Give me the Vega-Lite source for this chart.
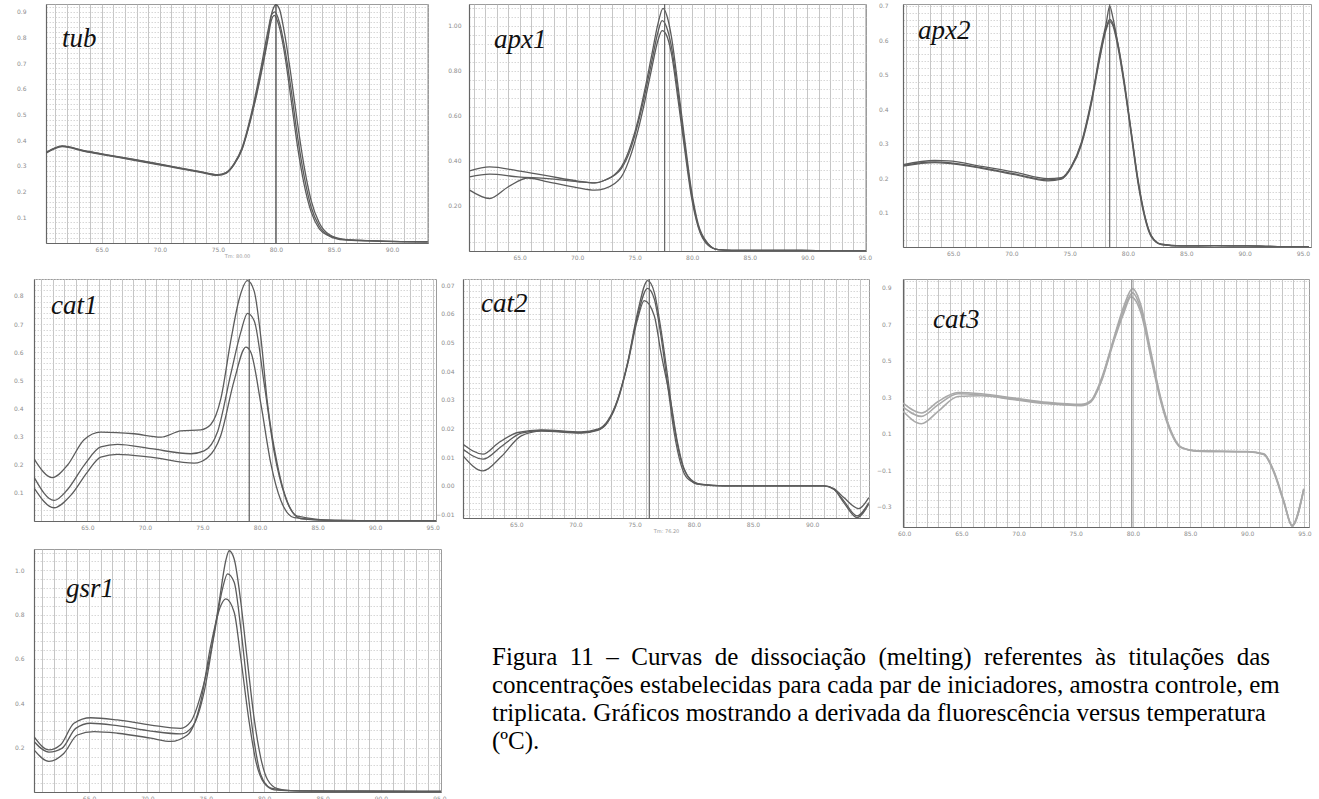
{
"$schema": "https://vega.github.io/schema/vega-lite/v6.json",
"background": "white",
"padding": {"left": 12, "top": 2, "right": 0, "bottom": 0},
"spacing": 11,
"vconcat": [
 {"spacing": 14, "vconcat": [
  {"bounds": "flush", "spacing": 0, "hconcat": [
   {"width": 12, "height": 1, "view": {"stroke": null}, "data": {"values": []}, "mark": "point"},
   {"width": 382, "height": 239,
    "title": {"text": "tub", "anchor": "start", "frame": "group", "orient": "top", "offset": -71, "dx": 16, "baseline": "alphabetic", "font": "Liberation Serif", "fontStyle": "italic", "fontWeight": "normal", "fontSize": 27, "color": "#111"},
    "layer": [
     {"data": {"name": "curves"}, "transform": [{"filter": "datum.g === 'tub'"}],
      "mark": {"type": "line", "interpolate": "monotone", "color": "#5c5c5c", "strokeWidth": 1.3, "clip": true},
      "encoding": {
       "x": {"field": "t", "type": "quantitative", "scale": {"domain": [60.2, 93.1], "nice": false, "zero": false},
             "axis": {"values": [61,62,63,64,65,66,67,68,69,70,71,72,73,74,75,76,77,78,79,80,81,82,83,84,85,86,87,88,89,90,91,92,93], "tickCount": 200, "labelExpr": "datum.value % 5 === 0 ? format(datum.value, '.1f') : ''", "labelOverlap": false, "labelFlush": false, "labelPadding": 3, "title": "Tm: 80.00"}},
       "y": {"field": "v", "type": "quantitative", "scale": {"domain": [0, 0.93], "nice": false, "zero": false},
             "axis": {"values": [0.02,0.04,0.06,0.08,0.1,0.12,0.14,0.16,0.18,0.2,0.22,0.24,0.26,0.28,0.3,0.32,0.34,0.36,0.38,0.4,0.42,0.44,0.46,0.48,0.5,0.52,0.54,0.56,0.58,0.6,0.62,0.64,0.66,0.68,0.7,0.72,0.74,0.76,0.78,0.8,0.82,0.84,0.86,0.88,0.9,0.92], "tickCount": 200, "labelExpr": "abs(datum.value*10 - round(datum.value*10)) < 0.001 ? format(datum.value, '.1f') : ''", "labelOverlap": false, "labelPadding": 20, "title": null}},
       "detail": {"field": "r"}}},
     {"data": {"name": "tm"}, "transform": [{"filter": "datum.g === 'tub'"}],
      "mark": {"type": "rule", "color": "#555", "strokeWidth": 1.3},
      "encoding": {"x": {"field": "t", "type": "quantitative"}}}
    ]},
   {"width": 41, "height": 1, "view": {"stroke": null}, "data": {"values": []}, "mark": "point"},
   {"width": 397, "height": 247,
    "title": {"text": "apx1", "anchor": "start", "frame": "group", "orient": "top", "offset": -72, "dx": 25, "baseline": "alphabetic", "font": "Liberation Serif", "fontStyle": "italic", "fontWeight": "normal", "fontSize": 27, "color": "#111"},
    "layer": [
     {"data": {"name": "curves"}, "transform": [{"filter": "datum.g === 'apx1'"}],
      "mark": {"type": "line", "interpolate": "monotone", "color": "#5c5c5c", "strokeWidth": 1.3, "clip": true},
      "encoding": {
       "x": {"field": "t", "type": "quantitative", "scale": {"domain": [60.6, 95.1], "nice": false, "zero": false},
             "axis": {"values": [61,62,63,64,65,66,67,68,69,70,71,72,73,74,75,76,77,78,79,80,81,82,83,84,85,86,87,88,89,90,91,92,93,94,95], "tickCount": 200, "labelExpr": "datum.value % 5 === 0 ? format(datum.value, '.1f') : ''", "labelOverlap": false, "labelFlush": false, "labelPadding": 3, "title": null}},
       "y": {"field": "v", "type": "quantitative", "scale": {"domain": [0, 1.096], "nice": false, "zero": false},
             "axis": {"values": [0.04,0.08,0.12,0.16,0.2,0.24,0.28,0.32,0.36,0.4,0.44,0.48,0.52,0.56,0.6,0.64,0.68,0.72,0.76,0.8,0.84,0.88,0.92,0.96,1.0,1.04,1.08], "tickCount": 200, "labelExpr": "abs(datum.value*5 - round(datum.value*5)) < 0.001 ? format(datum.value, '.2f') : ''", "labelOverlap": false, "labelPadding": 8, "title": null}},
       "detail": {"field": "r"}}},
     {"data": {"name": "tm"}, "transform": [{"filter": "datum.g === 'apx1'"}],
      "mark": {"type": "rule", "color": "#666", "strokeWidth": 1.2},
      "encoding": {"x": {"field": "t", "type": "quantitative"}}}
    ]},
   {"width": 37, "height": 1, "view": {"stroke": null}, "data": {"values": []}, "mark": "point"},
   {"width": 408, "height": 243,
    "title": {"text": "apx2", "anchor": "start", "frame": "group", "orient": "top", "offset": -63, "dx": 15, "baseline": "alphabetic", "font": "Liberation Serif", "fontStyle": "italic", "fontWeight": "normal", "fontSize": 27, "color": "#111"},
    "layer": [
     {"data": {"name": "curves"}, "transform": [{"filter": "datum.g === 'apx2'"}],
      "mark": {"type": "line", "interpolate": "monotone", "color": "#5c5c5c", "strokeWidth": 1.3, "clip": true},
      "encoding": {
       "x": {"field": "t", "type": "quantitative", "scale": {"domain": [60.7, 95.7], "nice": false, "zero": false},
             "axis": {"values": [61,62,63,64,65,66,67,68,69,70,71,72,73,74,75,76,77,78,79,80,81,82,83,84,85,86,87,88,89,90,91,92,93,94,95], "tickCount": 200, "labelExpr": "datum.value % 5 === 0 ? format(datum.value, '.1f') : ''", "labelOverlap": false, "labelFlush": false, "labelPadding": 3, "title": null}},
       "y": {"field": "v", "type": "quantitative", "scale": {"domain": [0, 0.705], "nice": false, "zero": false},
             "axis": {"values": [0.02,0.04,0.06,0.08,0.1,0.12,0.14,0.16,0.18,0.2,0.22,0.24,0.26,0.28,0.3,0.32,0.34,0.36,0.38,0.4,0.42,0.44,0.46,0.48,0.5,0.52,0.54,0.56,0.58,0.6,0.62,0.64,0.66,0.68,0.7], "tickCount": 200, "labelExpr": "abs(datum.value*10 - round(datum.value*10)) < 0.001 ? format(datum.value, '.1f') : ''", "labelOverlap": false, "labelPadding": 15, "title": null}},
       "detail": {"field": "r"}}},
     {"data": {"name": "tm"}, "transform": [{"filter": "datum.g === 'apx2'"}],
      "mark": {"type": "rule", "color": "#666", "strokeWidth": 1.2},
      "encoding": {"x": {"field": "t", "type": "quantitative"}}}
    ]}
  ]},
  {"bounds": "flush", "spacing": 0, "hconcat": [
   {"width": 402, "height": 242,
    "title": {"text": "cat1", "anchor": "start", "frame": "group", "orient": "top", "offset": -65, "dx": 17, "baseline": "alphabetic", "font": "Liberation Serif", "fontStyle": "italic", "fontWeight": "normal", "fontSize": 27, "color": "#111"},
    "layer": [
     {"data": {"name": "curves"}, "transform": [{"filter": "datum.g === 'cat1'"}],
      "mark": {"type": "line", "interpolate": "monotone", "color": "#5c5c5c", "strokeWidth": 1.3, "clip": true},
      "encoding": {
       "x": {"field": "t", "type": "quantitative", "scale": {"domain": [60.36, 95.29], "nice": false, "zero": false},
             "axis": {"values": [61,62,63,64,65,66,67,68,69,70,71,72,73,74,75,76,77,78,79,80,81,82,83,84,85,86,87,88,89,90,91,92,93,94,95], "tickCount": 200, "labelExpr": "datum.value % 5 === 0 ? format(datum.value, '.1f') : ''", "labelOverlap": false, "labelFlush": false, "labelPadding": 3, "title": null}},
       "y": {"field": "v", "type": "quantitative", "scale": {"domain": [0, 0.86], "nice": false, "zero": false},
             "axis": {"values": [0.02,0.04,0.06,0.08,0.1,0.12,0.14,0.16,0.18,0.2,0.22,0.24,0.26,0.28,0.3,0.32,0.34,0.36,0.38,0.4,0.42,0.44,0.46,0.48,0.5,0.52,0.54,0.56,0.58,0.6,0.62,0.64,0.66,0.68,0.7,0.72,0.74,0.76,0.78,0.8,0.82,0.84,0.86], "tickCount": 200, "labelExpr": "abs(datum.value*10 - round(datum.value*10)) < 0.001 ? format(datum.value, '.1f') : ''", "labelOverlap": false, "labelPadding": 11, "title": null}},
       "detail": {"field": "r"}}},
     {"data": {"name": "tm"}, "transform": [{"filter": "datum.g === 'cat1'"}],
      "mark": {"type": "rule", "color": "#666", "strokeWidth": 1.2},
      "encoding": {"x": {"field": "t", "type": "quantitative"}}}
    ]},
   {"width": 27, "height": 1, "view": {"stroke": null}, "data": {"values": []}, "mark": "point"},
   {"width": 406, "height": 239,
    "title": {"text": "cat2", "anchor": "start", "frame": "group", "orient": "top", "offset": -63, "dx": 18, "baseline": "alphabetic", "font": "Liberation Serif", "fontStyle": "italic", "fontWeight": "normal", "fontSize": 27, "color": "#111"},
    "layer": [
     {"data": {"name": "curves"}, "transform": [{"filter": "datum.g === 'cat2'"}],
      "mark": {"type": "line", "interpolate": "monotone", "color": "#5c5c5c", "strokeWidth": 1.3, "clip": true},
      "encoding": {
       "x": {"field": "t", "type": "quantitative", "scale": {"domain": [60.5, 94.8], "nice": false, "zero": false},
             "axis": {"values": [61,62,63,64,65,66,67,68,69,70,71,72,73,74,75,76,77,78,79,80,81,82,83,84,85,86,87,88,89,90,91,92,93,94], "tickCount": 200, "labelExpr": "datum.value % 5 === 0 ? format(datum.value, '.1f') : ''", "labelOverlap": false, "labelFlush": false, "labelPadding": 3, "title": "Tm: 76.20"}},
       "y": {"field": "v", "type": "quantitative", "scale": {"domain": [-0.0112, 0.0721], "nice": false, "zero": false},
             "axis": {"values": [-0.01,-0.008,-0.006,-0.004,-0.002,0,0.002,0.004,0.006,0.008,0.01,0.012,0.014,0.016,0.018,0.02,0.022,0.024,0.026,0.028,0.03,0.032,0.034,0.036,0.038,0.04,0.042,0.044,0.046,0.048,0.05,0.052,0.054,0.056,0.058,0.06,0.062,0.064,0.066,0.068,0.07,0.072], "tickCount": 200, "labelExpr": "abs(datum.value*100 - round(datum.value*100)) < 0.001 ? format(datum.value, '.2f') : ''", "labelOverlap": false, "labelPadding": 9, "title": null}},
       "detail": {"field": "r"}}},
     {"data": {"name": "tm"}, "transform": [{"filter": "datum.g === 'cat2'"}],
      "mark": {"type": "rule", "color": "#666", "strokeWidth": 1.2},
      "encoding": {"x": {"field": "t", "type": "quantitative"}}}
    ]},
   {"width": 34, "height": 1, "view": {"stroke": null}, "data": {"values": []}, "mark": "point"},
   {"width": 406, "height": 248,
    "title": {"text": "cat3", "anchor": "start", "frame": "group", "orient": "top", "offset": -77, "dx": 30, "baseline": "alphabetic", "font": "Liberation Serif", "fontStyle": "italic", "fontWeight": "normal", "fontSize": 27, "color": "#111"},
    "layer": [
     {"data": {"name": "curves"}, "transform": [{"filter": "datum.g === 'cat3'"}],
      "mark": {"type": "line", "interpolate": "monotone", "color": "#a9a9a9", "strokeWidth": 1.6, "clip": true},
      "encoding": {
       "x": {"field": "t", "type": "quantitative", "scale": {"domain": [59.9, 95.4], "nice": false, "zero": false},
             "axis": {"values": [60,61,62,63,64,65,66,67,68,69,70,71,72,73,74,75,76,77,78,79,80,81,82,83,84,85,86,87,88,89,90,91,92,93,94,95], "tickCount": 200, "labelExpr": "datum.value % 5 === 0 ? format(datum.value, '.1f') : ''", "labelOverlap": false, "labelFlush": false, "labelPadding": 3, "title": null}},
       "y": {"field": "v", "type": "quantitative", "scale": {"domain": [-0.41, 0.949], "nice": false, "zero": false},
             "axis": {"values": [-0.38,-0.34,-0.3,-0.26,-0.22,-0.18,-0.14,-0.1,-0.06,-0.02,0.02,0.06,0.1,0.14,0.18,0.22,0.26,0.3,0.34,0.38,0.42,0.46,0.5,0.54,0.58,0.62,0.66,0.7,0.74,0.78,0.82,0.86,0.9,0.94], "tickCount": 200, "labelExpr": "abs(datum.value*10 - round(datum.value*10)) < 0.001 && abs(round(datum.value*10)) % 2 === 1 ? format(datum.value, '.1f') : ''", "labelOverlap": false, "labelPadding": 12, "title": null}},
       "detail": {"field": "r"}}},
     {"data": {"name": "tm"}, "transform": [{"filter": "datum.g === 'cat3'"}],
      "mark": {"type": "rule", "color": "#999", "strokeWidth": 1.4},
      "encoding": {"x": {"field": "t", "type": "quantitative"}}}
    ]}
  ]}
 ]},
 {"bounds": "flush", "spacing": 0, "hconcat": [
  {"width": 407, "height": 243,
   "title": {"text": "gsr1", "anchor": "start", "frame": "group", "orient": "top", "offset": -75, "dx": 32, "baseline": "alphabetic", "font": "Liberation Serif", "fontStyle": "italic", "fontWeight": "normal", "fontSize": 27, "color": "#111"},
   "layer": [
    {"data": {"name": "curves"}, "transform": [{"filter": "datum.g === 'gsr1'"}],
     "mark": {"type": "line", "interpolate": "monotone", "color": "#5c5c5c", "strokeWidth": 1.3, "clip": true},
     "encoding": {
      "x": {"field": "t", "type": "quantitative", "scale": {"domain": [60.29, 95.14], "nice": false, "zero": false},
            "axis": {"values": [61,62,63,64,65,66,67,68,69,70,71,72,73,74,75,76,77,78,79,80,81,82,83,84,85,86,87,88,89,90,91,92,93,94,95], "tickCount": 200, "labelExpr": "datum.value % 5 === 0 ? format(datum.value, '.1f') : ''", "labelOverlap": false, "labelFlush": false, "labelPadding": 3, "title": null}},
      "y": {"field": "v", "type": "quantitative", "scale": {"domain": [0, 1.096], "nice": false, "zero": false},
            "axis": {"values": [0.04,0.08,0.12,0.16,0.2,0.24,0.28,0.32,0.36,0.4,0.44,0.48,0.52,0.56,0.6,0.64,0.68,0.72,0.76,0.8,0.84,0.88,0.92,0.96,1.0,1.04,1.08], "tickCount": 200, "labelExpr": "abs(datum.value*5 - round(datum.value*5)) < 0.001 ? format(datum.value, '.1f') : ''", "labelOverlap": false, "labelPadding": 10, "title": null}},
      "detail": {"field": "r"}}}
   ]},
  {"width": 51, "height": 1, "view": {"stroke": null}, "data": {"values": []}, "mark": "point"},
  {"width": 800, "height": 243, "view": {"stroke": null},
   "data": {"name": "caption"},
   "mark": {"type": "text", "align": "left", "baseline": "alphabetic", "font": "Liberation Serif", "fontSize": 25, "color": "#000"},
   "encoding": {
    "x": {"datum": 0, "type": "quantitative", "scale": {"domain": [0, 1]}, "axis": null},
    "y": {"field": "line", "type": "quantitative", "scale": {"domain": [-3.143, 5.536], "reverse": true, "nice": false, "zero": false}, "axis": null},
    "text": {"field": "text"}}}
 ]}
],
"datasets": {
 "caption": [
  {"line": 1, "text": "Figura\u00a0 11\u00a0 –\u00a0 Curvas\u00a0 de\u00a0 dissociação\u00a0 (melting)\u00a0 referentes\u00a0 às\u00a0 titulações\u00a0 das"},
  {"line": 2, "text": "concentrações estabelecidas para cada par de iniciadores, amostra controle, em"},
  {"line": 3, "text": "triplicata. Gráficos mostrando a derivada da fluorescência versus temperatura"},
  {"line": 4, "text": "(ºC)."}
 ],
 "tm": [
  {"g": "tub", "t": 80.0}, {"g": "apx1", "t": 77.6}, {"g": "apx2", "t": 78.43},
  {"g": "cat1", "t": 79.06}, {"g": "cat2", "t": 76.24}, {"g": "cat3", "t": 79.9}
 ],
 "curves": [
  {"g":"tub","r":"a","t":60.2,"v":0.351},{"g":"tub","r":"a","t":61.6,"v":0.377},{"g":"tub","r":"a","t":63.5,"v":0.358},{"g":"tub","r":"a","t":64.9,"v":0.347},{"g":"tub","r":"a","t":67.8,"v":0.324},{"g":"tub","r":"a","t":70.7,"v":0.300},{"g":"tub","r":"a","t":73.5,"v":0.277},{"g":"tub","r":"a","t":75.0,"v":0.265},{"g":"tub","r":"a","t":75.7,"v":0.273},{"g":"tub","r":"a","t":76.4,"v":0.309},{"g":"tub","r":"a","t":77.1,"v":0.373},{"g":"tub","r":"a","t":77.8,"v":0.488},{"g":"tub","r":"a","t":78.6,"v":0.655},{"g":"tub","r":"a","t":79.3,"v":0.822},{"g":"tub","r":"a","t":79.71,"v":0.905},{"g":"tub","r":"a","t":80.0,"v":0.927},{"g":"tub","r":"a","t":80.29,"v":0.912},{"g":"tub","r":"a","t":80.72,"v":0.822},{"g":"tub","r":"a","t":81.29,"v":0.655},{"g":"tub","r":"a","t":81.87,"v":0.463},{"g":"tub","r":"a","t":82.44,"v":0.296},{"g":"tub","r":"a","t":83.02,"v":0.168},{"g":"tub","r":"a","t":83.74,"v":0.078},{"g":"tub","r":"a","t":84.6,"v":0.033},{"g":"tub","r":"a","t":85.89,"v":0.014},{"g":"tub","r":"a","t":87.9,"v":0.009},{"g":"tub","r":"a","t":90.78,"v":0.005},{"g":"tub","r":"a","t":93.07,"v":0.004},
  {"g":"tub","r":"b","t":60.2,"v":0.349},{"g":"tub","r":"b","t":61.6,"v":0.375},{"g":"tub","r":"b","t":63.5,"v":0.357},{"g":"tub","r":"b","t":64.9,"v":0.345},{"g":"tub","r":"b","t":67.8,"v":0.322},{"g":"tub","r":"b","t":70.7,"v":0.298},{"g":"tub","r":"b","t":73.5,"v":0.275},{"g":"tub","r":"b","t":75.0,"v":0.263},{"g":"tub","r":"b","t":75.7,"v":0.271},{"g":"tub","r":"b","t":76.4,"v":0.305},{"g":"tub","r":"b","t":77.1,"v":0.366},{"g":"tub","r":"b","t":77.8,"v":0.478},{"g":"tub","r":"b","t":78.6,"v":0.64},{"g":"tub","r":"b","t":79.3,"v":0.80},{"g":"tub","r":"b","t":79.63,"v":0.888},{"g":"tub","r":"b","t":79.91,"v":0.899},{"g":"tub","r":"b","t":80.29,"v":0.86},{"g":"tub","r":"b","t":80.72,"v":0.77},{"g":"tub","r":"b","t":81.29,"v":0.604},{"g":"tub","r":"b","t":81.87,"v":0.412},{"g":"tub","r":"b","t":82.44,"v":0.258},{"g":"tub","r":"b","t":83.02,"v":0.142},{"g":"tub","r":"b","t":83.74,"v":0.065},{"g":"tub","r":"b","t":84.6,"v":0.029},{"g":"tub","r":"b","t":85.89,"v":0.013},{"g":"tub","r":"b","t":87.9,"v":0.009},{"g":"tub","r":"b","t":90.78,"v":0.005},{"g":"tub","r":"b","t":93.07,"v":0.004},
  {"g":"tub","r":"c","t":60.2,"v":0.352},{"g":"tub","r":"c","t":61.6,"v":0.378},{"g":"tub","r":"c","t":63.5,"v":0.359},{"g":"tub","r":"c","t":64.9,"v":0.348},{"g":"tub","r":"c","t":67.8,"v":0.325},{"g":"tub","r":"c","t":70.7,"v":0.301},{"g":"tub","r":"c","t":73.5,"v":0.278},{"g":"tub","r":"c","t":75.0,"v":0.266},{"g":"tub","r":"c","t":75.7,"v":0.274},{"g":"tub","r":"c","t":76.4,"v":0.307},{"g":"tub","r":"c","t":77.1,"v":0.368},{"g":"tub","r":"c","t":77.8,"v":0.475},{"g":"tub","r":"c","t":78.6,"v":0.63},{"g":"tub","r":"c","t":79.3,"v":0.79},{"g":"tub","r":"c","t":79.57,"v":0.86},{"g":"tub","r":"c","t":79.86,"v":0.886},{"g":"tub","r":"c","t":80.29,"v":0.841},{"g":"tub","r":"c","t":80.72,"v":0.745},{"g":"tub","r":"c","t":81.29,"v":0.565},{"g":"tub","r":"c","t":81.87,"v":0.373},{"g":"tub","r":"c","t":82.44,"v":0.226},{"g":"tub","r":"c","t":83.02,"v":0.123},{"g":"tub","r":"c","t":83.74,"v":0.055},{"g":"tub","r":"c","t":84.6,"v":0.027},{"g":"tub","r":"c","t":85.89,"v":0.012},{"g":"tub","r":"c","t":87.9,"v":0.008},{"g":"tub","r":"c","t":90.78,"v":0.005},{"g":"tub","r":"c","t":93.07,"v":0.004},

  {"g":"apx1","r":"a","t":60.65,"v":0.356},{"g":"apx1","r":"a","t":62.39,"v":0.373},{"g":"apx1","r":"a","t":64.86,"v":0.356},{"g":"apx1","r":"a","t":67.46,"v":0.333},{"g":"apx1","r":"a","t":70.07,"v":0.31},{"g":"apx1","r":"a","t":71.52,"v":0.302},{"g":"apx1","r":"a","t":72.39,"v":0.314},{"g":"apx1","r":"a","t":73.84,"v":0.373},{"g":"apx1","r":"a","t":74.71,"v":0.477},{"g":"apx1","r":"a","t":75.29,"v":0.581},{"g":"apx1","r":"a","t":75.87,"v":0.714},{"g":"apx1","r":"a","t":76.45,"v":0.862},{"g":"apx1","r":"a","t":77.03,"v":1.01},{"g":"apx1","r":"a","t":77.46,"v":1.077},{"g":"apx1","r":"a","t":77.9,"v":1.025},{"g":"apx1","r":"a","t":78.19,"v":0.951},{"g":"apx1","r":"a","t":78.77,"v":0.729},{"g":"apx1","r":"a","t":79.35,"v":0.492},{"g":"apx1","r":"a","t":79.93,"v":0.27},{"g":"apx1","r":"a","t":80.51,"v":0.121},{"g":"apx1","r":"a","t":81.38,"v":0.033},{"g":"apx1","r":"a","t":82.25,"v":0.006},{"g":"apx1","r":"a","t":83.41,"v":0.003},{"g":"apx1","r":"a","t":86.3,"v":0.003},{"g":"apx1","r":"a","t":92.1,"v":0.001},{"g":"apx1","r":"a","t":95.14,"v":0.0},
  {"g":"apx1","r":"b","t":60.65,"v":0.329},{"g":"apx1","r":"b","t":62.39,"v":0.341},{"g":"apx1","r":"b","t":64.86,"v":0.329},{"g":"apx1","r":"b","t":67.46,"v":0.321},{"g":"apx1","r":"b","t":70.07,"v":0.307},{"g":"apx1","r":"b","t":71.52,"v":0.302},{"g":"apx1","r":"b","t":72.39,"v":0.314},{"g":"apx1","r":"b","t":73.84,"v":0.366},{"g":"apx1","r":"b","t":74.71,"v":0.462},{"g":"apx1","r":"b","t":75.29,"v":0.566},{"g":"apx1","r":"b","t":75.87,"v":0.692},{"g":"apx1","r":"b","t":76.45,"v":0.833},{"g":"apx1","r":"b","t":77.03,"v":0.973},{"g":"apx1","r":"b","t":77.38,"v":1.022},{"g":"apx1","r":"b","t":77.75,"v":0.996},{"g":"apx1","r":"b","t":78.19,"v":0.907},{"g":"apx1","r":"b","t":78.77,"v":0.699},{"g":"apx1","r":"b","t":79.35,"v":0.47},{"g":"apx1","r":"b","t":79.93,"v":0.255},{"g":"apx1","r":"b","t":80.51,"v":0.114},{"g":"apx1","r":"b","t":81.38,"v":0.03},{"g":"apx1","r":"b","t":82.25,"v":0.006},{"g":"apx1","r":"b","t":83.41,"v":0.003},{"g":"apx1","r":"b","t":86.3,"v":0.003},{"g":"apx1","r":"b","t":92.1,"v":0.001},{"g":"apx1","r":"b","t":95.14,"v":0.0},
  {"g":"apx1","r":"c","t":60.65,"v":0.27},{"g":"apx1","r":"c","t":62.39,"v":0.233},{"g":"apx1","r":"c","t":63.99,"v":0.284},{"g":"apx1","r":"c","t":65.72,"v":0.324},{"g":"apx1","r":"c","t":67.46,"v":0.307},{"g":"apx1","r":"c","t":70.07,"v":0.28},{"g":"apx1","r":"c","t":71.52,"v":0.27},{"g":"apx1","r":"c","t":72.39,"v":0.277},{"g":"apx1","r":"c","t":73.84,"v":0.329},{"g":"apx1","r":"c","t":74.71,"v":0.433},{"g":"apx1","r":"c","t":75.29,"v":0.536},{"g":"apx1","r":"c","t":75.87,"v":0.662},{"g":"apx1","r":"c","t":76.45,"v":0.803},{"g":"apx1","r":"c","t":77.03,"v":0.936},{"g":"apx1","r":"c","t":77.38,"v":0.978},{"g":"apx1","r":"c","t":77.75,"v":0.959},{"g":"apx1","r":"c","t":78.19,"v":0.877},{"g":"apx1","r":"c","t":78.77,"v":0.67},{"g":"apx1","r":"c","t":79.35,"v":0.447},{"g":"apx1","r":"c","t":79.93,"v":0.24},{"g":"apx1","r":"c","t":80.51,"v":0.107},{"g":"apx1","r":"c","t":81.38,"v":0.025},{"g":"apx1","r":"c","t":82.25,"v":0.006},{"g":"apx1","r":"c","t":83.41,"v":0.003},{"g":"apx1","r":"c","t":86.3,"v":0.003},{"g":"apx1","r":"c","t":92.1,"v":0.001},{"g":"apx1","r":"c","t":95.14,"v":0.0},

  {"g":"apx2","r":"a","t":60.71,"v":0.237},{"g":"apx2","r":"a","t":63.43,"v":0.247},{"g":"apx2","r":"a","t":64.57,"v":0.245},{"g":"apx2","r":"a","t":67.43,"v":0.23},{"g":"apx2","r":"a","t":70.29,"v":0.212},{"g":"apx2","r":"a","t":73.14,"v":0.195},{"g":"apx2","r":"a","t":74.29,"v":0.199},{"g":"apx2","r":"a","t":75.14,"v":0.233},{"g":"apx2","r":"a","t":76.0,"v":0.30},{"g":"apx2","r":"a","t":76.86,"v":0.421},{"g":"apx2","r":"a","t":77.57,"v":0.56},{"g":"apx2","r":"a","t":78.14,"v":0.651},{"g":"apx2","r":"a","t":78.43,"v":0.699},{"g":"apx2","r":"a","t":78.71,"v":0.665},{"g":"apx2","r":"a","t":79.14,"v":0.589},{"g":"apx2","r":"a","t":79.71,"v":0.469},{"g":"apx2","r":"a","t":80.29,"v":0.33},{"g":"apx2","r":"a","t":80.86,"v":0.191},{"g":"apx2","r":"a","t":81.43,"v":0.091},{"g":"apx2","r":"a","t":82.0,"v":0.032},{"g":"apx2","r":"a","t":82.86,"v":0.008},{"g":"apx2","r":"a","t":84.57,"v":0.003},{"g":"apx2","r":"a","t":87.43,"v":0.004},{"g":"apx2","r":"a","t":90.29,"v":0.003},{"g":"apx2","r":"a","t":94.29,"v":0.001},{"g":"apx2","r":"a","t":95.5,"v":0.001},
  {"g":"apx2","r":"b","t":60.71,"v":0.239},{"g":"apx2","r":"b","t":63.43,"v":0.251},{"g":"apx2","r":"b","t":64.57,"v":0.25},{"g":"apx2","r":"b","t":67.43,"v":0.234},{"g":"apx2","r":"b","t":70.29,"v":0.217},{"g":"apx2","r":"b","t":73.14,"v":0.198},{"g":"apx2","r":"b","t":74.29,"v":0.201},{"g":"apx2","r":"b","t":75.14,"v":0.234},{"g":"apx2","r":"b","t":76.0,"v":0.303},{"g":"apx2","r":"b","t":76.86,"v":0.426},{"g":"apx2","r":"b","t":77.57,"v":0.55},{"g":"apx2","r":"b","t":78.14,"v":0.638},{"g":"apx2","r":"b","t":78.43,"v":0.66},{"g":"apx2","r":"b","t":78.71,"v":0.648},{"g":"apx2","r":"b","t":79.14,"v":0.589},{"g":"apx2","r":"b","t":79.71,"v":0.474},{"g":"apx2","r":"b","t":80.29,"v":0.332},{"g":"apx2","r":"b","t":80.86,"v":0.196},{"g":"apx2","r":"b","t":81.43,"v":0.093},{"g":"apx2","r":"b","t":82.0,"v":0.033},{"g":"apx2","r":"b","t":82.86,"v":0.008},{"g":"apx2","r":"b","t":84.57,"v":0.003},{"g":"apx2","r":"b","t":87.43,"v":0.004},{"g":"apx2","r":"b","t":90.29,"v":0.003},{"g":"apx2","r":"b","t":94.29,"v":0.001},{"g":"apx2","r":"b","t":95.5,"v":0.001},
  {"g":"apx2","r":"c","t":60.71,"v":0.235},{"g":"apx2","r":"c","t":63.43,"v":0.245},{"g":"apx2","r":"c","t":64.57,"v":0.243},{"g":"apx2","r":"c","t":67.43,"v":0.228},{"g":"apx2","r":"c","t":70.29,"v":0.21},{"g":"apx2","r":"c","t":73.14,"v":0.192},{"g":"apx2","r":"c","t":74.29,"v":0.197},{"g":"apx2","r":"c","t":75.14,"v":0.23},{"g":"apx2","r":"c","t":76.0,"v":0.296},{"g":"apx2","r":"c","t":76.86,"v":0.416},{"g":"apx2","r":"c","t":77.57,"v":0.545},{"g":"apx2","r":"c","t":78.14,"v":0.632},{"g":"apx2","r":"c","t":78.43,"v":0.654},{"g":"apx2","r":"c","t":78.71,"v":0.642},{"g":"apx2","r":"c","t":79.14,"v":0.579},{"g":"apx2","r":"c","t":79.71,"v":0.462},{"g":"apx2","r":"c","t":80.29,"v":0.322},{"g":"apx2","r":"c","t":80.86,"v":0.185},{"g":"apx2","r":"c","t":81.43,"v":0.086},{"g":"apx2","r":"c","t":82.0,"v":0.029},{"g":"apx2","r":"c","t":82.86,"v":0.007},{"g":"apx2","r":"c","t":84.57,"v":0.003},{"g":"apx2","r":"c","t":87.43,"v":0.004},{"g":"apx2","r":"c","t":90.29,"v":0.003},{"g":"apx2","r":"c","t":94.29,"v":0.001},{"g":"apx2","r":"c","t":95.5,"v":0.001},

  {"g":"cat1","r":"a","t":60.36,"v":0.221},{"g":"cat1","r":"a","t":61.96,"v":0.154},{"g":"cat1","r":"a","t":63.26,"v":0.198},{"g":"cat1","r":"a","t":64.71,"v":0.289},{"g":"cat1","r":"a","t":66.16,"v":0.316},{"g":"cat1","r":"a","t":69.06,"v":0.31},{"g":"cat1","r":"a","t":71.38,"v":0.298},{"g":"cat1","r":"a","t":73.12,"v":0.32},{"g":"cat1","r":"a","t":74.86,"v":0.324},{"g":"cat1","r":"a","t":75.72,"v":0.343},{"g":"cat1","r":"a","t":76.59,"v":0.434},{"g":"cat1","r":"a","t":77.46,"v":0.641},{"g":"cat1","r":"a","t":78.19,"v":0.789},{"g":"cat1","r":"a","t":78.91,"v":0.854},{"g":"cat1","r":"a","t":79.49,"v":0.817},{"g":"cat1","r":"a","t":80.07,"v":0.653},{"g":"cat1","r":"a","t":80.65,"v":0.417},{"g":"cat1","r":"a","t":81.52,"v":0.198},{"g":"cat1","r":"a","t":82.39,"v":0.067},{"g":"cat1","r":"a","t":83.55,"v":0.008},{"g":"cat1","r":"a","t":86.45,"v":0.002},{"g":"cat1","r":"a","t":93.99,"v":0.001},{"g":"cat1","r":"a","t":95.29,"v":0.0},
  {"g":"cat1","r":"b","t":60.36,"v":0.156},{"g":"cat1","r":"b","t":62.1,"v":0.073},{"g":"cat1","r":"b","t":63.26,"v":0.111},{"g":"cat1","r":"b","t":64.71,"v":0.198},{"g":"cat1","r":"b","t":66.16,"v":0.263},{"g":"cat1","r":"b","t":67.61,"v":0.272},{"g":"cat1","r":"b","t":70.51,"v":0.257},{"g":"cat1","r":"b","t":74.0,"v":0.239},{"g":"cat1","r":"b","t":75.14,"v":0.249},{"g":"cat1","r":"b","t":76.3,"v":0.316},{"g":"cat1","r":"b","t":77.46,"v":0.523},{"g":"cat1","r":"b","t":78.33,"v":0.671},{"g":"cat1","r":"b","t":78.91,"v":0.738},{"g":"cat1","r":"b","t":79.49,"v":0.712},{"g":"cat1","r":"b","t":80.36,"v":0.488},{"g":"cat1","r":"b","t":81.23,"v":0.245},{"g":"cat1","r":"b","t":82.1,"v":0.097},{"g":"cat1","r":"b","t":83.26,"v":0.017},{"g":"cat1","r":"b","t":86.45,"v":0.002},{"g":"cat1","r":"b","t":93.99,"v":0.001},{"g":"cat1","r":"b","t":95.29,"v":0.0},
  {"g":"cat1","r":"c","t":60.36,"v":0.118},{"g":"cat1","r":"c","t":62.1,"v":0.047},{"g":"cat1","r":"c","t":63.55,"v":0.091},{"g":"cat1","r":"c","t":65.0,"v":0.174},{"g":"cat1","r":"c","t":66.16,"v":0.227},{"g":"cat1","r":"c","t":67.61,"v":0.237},{"g":"cat1","r":"c","t":70.51,"v":0.227},{"g":"cat1","r":"c","t":74.28,"v":0.206},{"g":"cat1","r":"c","t":75.43,"v":0.225},{"g":"cat1","r":"c","t":76.59,"v":0.304},{"g":"cat1","r":"c","t":77.75,"v":0.499},{"g":"cat1","r":"c","t":78.77,"v":0.618},{"g":"cat1","r":"c","t":79.2,"v":0.60},{"g":"cat1","r":"c","t":80.07,"v":0.417},{"g":"cat1","r":"c","t":80.94,"v":0.204},{"g":"cat1","r":"c","t":81.81,"v":0.073},{"g":"cat1","r":"c","t":82.97,"v":0.012},{"g":"cat1","r":"c","t":86.45,"v":0.002},{"g":"cat1","r":"c","t":93.99,"v":0.001},{"g":"cat1","r":"c","t":95.29,"v":0.0},

  {"g":"cat2","r":"a","t":60.51,"v":0.01453},{"g":"cat2","r":"a","t":62.19,"v":0.01105},{"g":"cat2","r":"a","t":63.46,"v":0.01488},{"g":"cat2","r":"a","t":65.14,"v":0.0186},{"g":"cat2","r":"a","t":67.11,"v":0.01953},{"g":"cat2","r":"a","t":70.48,"v":0.01884},{"g":"cat2","r":"a","t":71.88,"v":0.01977},{"g":"cat2","r":"a","t":72.72,"v":0.02267},{"g":"cat2","r":"a","t":73.57,"v":0.03023},{"g":"cat2","r":"a","t":74.41,"v":0.04302},{"g":"cat2","r":"a","t":75.25,"v":0.06047},{"g":"cat2","r":"a","t":76.1,"v":0.07151},{"g":"cat2","r":"a","t":76.66,"v":0.06744},{"g":"cat2","r":"a","t":77.22,"v":0.05465},{"g":"cat2","r":"a","t":77.78,"v":0.03837},{"g":"cat2","r":"a","t":78.34,"v":0.02093},{"g":"cat2","r":"a","t":78.9,"v":0.0093},{"g":"cat2","r":"a","t":79.47,"v":0.00349},{"g":"cat2","r":"a","t":80.59,"v":0.00058},{"g":"cat2","r":"a","t":82.56,"v":0.0},{"g":"cat2","r":"a","t":90.98,"v":0.0},{"g":"cat2","r":"a","t":91.83,"v":-0.00093},{"g":"cat2","r":"a","t":92.67,"v":-0.00407},{"g":"cat2","r":"a","t":93.93,"v":-0.00791},{"g":"cat2","r":"a","t":94.78,"v":-0.00407},
  {"g":"cat2","r":"b","t":60.51,"v":0.01279},{"g":"cat2","r":"b","t":62.19,"v":0.0093},{"g":"cat2","r":"b","t":63.74,"v":0.01372},{"g":"cat2","r":"b","t":65.42,"v":0.01837},{"g":"cat2","r":"b","t":67.11,"v":0.0193},{"g":"cat2","r":"b","t":70.48,"v":0.0186},{"g":"cat2","r":"b","t":71.88,"v":0.01953},{"g":"cat2","r":"b","t":72.72,"v":0.02233},{"g":"cat2","r":"b","t":73.57,"v":0.03},{"g":"cat2","r":"b","t":74.41,"v":0.04279},{"g":"cat2","r":"b","t":75.25,"v":0.0593},{"g":"cat2","r":"b","t":76.1,"v":0.06884},{"g":"cat2","r":"b","t":76.66,"v":0.06512},{"g":"cat2","r":"b","t":77.22,"v":0.05233},{"g":"cat2","r":"b","t":77.78,"v":0.03547},{"g":"cat2","r":"b","t":78.34,"v":0.0186},{"g":"cat2","r":"b","t":78.9,"v":0.00756},{"g":"cat2","r":"b","t":79.47,"v":0.00256},{"g":"cat2","r":"b","t":80.59,"v":0.00047},{"g":"cat2","r":"b","t":82.56,"v":0.0},{"g":"cat2","r":"b","t":90.98,"v":0.0},{"g":"cat2","r":"b","t":91.83,"v":-0.00116},{"g":"cat2","r":"b","t":92.67,"v":-0.00523},{"g":"cat2","r":"b","t":93.79,"v":-0.01047},{"g":"cat2","r":"b","t":94.78,"v":-0.00581},
  {"g":"cat2","r":"c","t":60.51,"v":0.01047},{"g":"cat2","r":"c","t":62.19,"v":0.00523},{"g":"cat2","r":"c","t":63.74,"v":0.01023},{"g":"cat2","r":"c","t":65.42,"v":0.01744},{"g":"cat2","r":"c","t":67.11,"v":0.01907},{"g":"cat2","r":"c","t":70.48,"v":0.01837},{"g":"cat2","r":"c","t":71.88,"v":0.0193},{"g":"cat2","r":"c","t":72.72,"v":0.02209},{"g":"cat2","r":"c","t":73.57,"v":0.02965},{"g":"cat2","r":"c","t":74.41,"v":0.04244},{"g":"cat2","r":"c","t":75.25,"v":0.05814},{"g":"cat2","r":"c","t":75.81,"v":0.06453},{"g":"cat2","r":"c","t":76.66,"v":0.0593},{"g":"cat2","r":"c","t":77.22,"v":0.04651},{"g":"cat2","r":"c","t":78.06,"v":0.02907},{"g":"cat2","r":"c","t":78.62,"v":0.01512},{"g":"cat2","r":"c","t":79.19,"v":0.00581},{"g":"cat2","r":"c","t":80.31,"v":0.00058},{"g":"cat2","r":"c","t":82.56,"v":0.0},{"g":"cat2","r":"c","t":90.98,"v":0.0},{"g":"cat2","r":"c","t":91.83,"v":-0.00116},{"g":"cat2","r":"c","t":92.67,"v":-0.00581},{"g":"cat2","r":"c","t":93.79,"v":-0.01105},{"g":"cat2","r":"c","t":94.78,"v":-0.0064},

  {"g":"cat3","r":"a","t":59.91,"v":0.269},{"g":"cat3","r":"a","t":61.51,"v":0.215},{"g":"cat3","r":"a","t":62.97,"v":0.278},{"g":"cat3","r":"a","t":64.71,"v":0.327},{"g":"cat3","r":"a","t":66.74,"v":0.32},{"g":"cat3","r":"a","t":69.65,"v":0.296},{"g":"cat3","r":"a","t":72.56,"v":0.273},{"g":"cat3","r":"a","t":75.47,"v":0.262},{"g":"cat3","r":"a","t":76.34,"v":0.284},{"g":"cat3","r":"a","t":77.21,"v":0.396},{"g":"cat3","r":"a","t":78.37,"v":0.633},{"g":"cat3","r":"a","t":79.24,"v":0.805},{"g":"cat3","r":"a","t":79.97,"v":0.896},{"g":"cat3","r":"a","t":80.7,"v":0.805},{"g":"cat3","r":"a","t":81.57,"v":0.551},{"g":"cat3","r":"a","t":82.44,"v":0.296},{"g":"cat3","r":"a","t":83.31,"v":0.12},{"g":"cat3","r":"a","t":84.19,"v":0.029},{"g":"cat3","r":"a","t":85.64,"v":0.007},{"g":"cat3","r":"a","t":90.0,"v":0.004},{"g":"cat3","r":"a","t":91.45,"v":-0.009},{"g":"cat3","r":"a","t":92.33,"v":-0.104},{"g":"cat3","r":"a","t":93.2,"v":-0.267},{"g":"cat3","r":"a","t":93.92,"v":-0.404},{"g":"cat3","r":"a","t":94.94,"v":-0.2},
  {"g":"cat3","r":"b","t":59.91,"v":0.247},{"g":"cat3","r":"b","t":61.51,"v":0.196},{"g":"cat3","r":"b","t":62.97,"v":0.26},{"g":"cat3","r":"b","t":64.71,"v":0.32},{"g":"cat3","r":"b","t":66.74,"v":0.313},{"g":"cat3","r":"b","t":69.65,"v":0.291},{"g":"cat3","r":"b","t":72.56,"v":0.269},{"g":"cat3","r":"b","t":75.47,"v":0.258},{"g":"cat3","r":"b","t":76.34,"v":0.28},{"g":"cat3","r":"b","t":77.21,"v":0.387},{"g":"cat3","r":"b","t":78.37,"v":0.624},{"g":"cat3","r":"b","t":79.24,"v":0.787},{"g":"cat3","r":"b","t":79.97,"v":0.873},{"g":"cat3","r":"b","t":80.7,"v":0.782},{"g":"cat3","r":"b","t":81.57,"v":0.533},{"g":"cat3","r":"b","t":82.44,"v":0.287},{"g":"cat3","r":"b","t":83.31,"v":0.115},{"g":"cat3","r":"b","t":84.19,"v":0.027},{"g":"cat3","r":"b","t":85.64,"v":0.006},{"g":"cat3","r":"b","t":90.0,"v":0.002},{"g":"cat3","r":"b","t":91.45,"v":-0.011},{"g":"cat3","r":"b","t":92.33,"v":-0.107},{"g":"cat3","r":"b","t":93.2,"v":-0.271},{"g":"cat3","r":"b","t":93.92,"v":-0.4},{"g":"cat3","r":"b","t":94.94,"v":-0.204},
  {"g":"cat3","r":"c","t":59.91,"v":0.224},{"g":"cat3","r":"c","t":61.51,"v":0.156},{"g":"cat3","r":"c","t":62.97,"v":0.224},{"g":"cat3","r":"c","t":64.71,"v":0.305},{"g":"cat3","r":"c","t":66.74,"v":0.309},{"g":"cat3","r":"c","t":69.65,"v":0.287},{"g":"cat3","r":"c","t":72.56,"v":0.265},{"g":"cat3","r":"c","t":75.47,"v":0.255},{"g":"cat3","r":"c","t":76.34,"v":0.276},{"g":"cat3","r":"c","t":77.21,"v":0.382},{"g":"cat3","r":"c","t":78.37,"v":0.615},{"g":"cat3","r":"c","t":79.24,"v":0.769},{"g":"cat3","r":"c","t":79.83,"v":0.851},{"g":"cat3","r":"c","t":80.7,"v":0.764},{"g":"cat3","r":"c","t":81.57,"v":0.52},{"g":"cat3","r":"c","t":82.44,"v":0.278},{"g":"cat3","r":"c","t":83.31,"v":0.109},{"g":"cat3","r":"c","t":84.19,"v":0.025},{"g":"cat3","r":"c","t":85.64,"v":0.006},{"g":"cat3","r":"c","t":90.0,"v":0.002},{"g":"cat3","r":"c","t":91.45,"v":-0.013},{"g":"cat3","r":"c","t":92.33,"v":-0.113},{"g":"cat3","r":"c","t":93.2,"v":-0.276},{"g":"cat3","r":"c","t":93.92,"v":-0.405},{"g":"cat3","r":"c","t":94.94,"v":-0.207},

  {"g":"gsr1","r":"a","t":60.29,"v":0.25},{"g":"gsr1","r":"a","t":61.57,"v":0.19},{"g":"gsr1","r":"a","t":62.57,"v":0.213},{"g":"gsr1","r":"a","t":63.71,"v":0.31},{"g":"gsr1","r":"a","t":65.14,"v":0.335},{"g":"gsr1","r":"a","t":67.43,"v":0.325},{"g":"gsr1","r":"a","t":70.29,"v":0.302},{"g":"gsr1","r":"a","t":72.86,"v":0.287},{"g":"gsr1","r":"a","t":73.71,"v":0.317},{"g":"gsr1","r":"a","t":74.57,"v":0.437},{"g":"gsr1","r":"a","t":75.43,"v":0.632},{"g":"gsr1","r":"a","t":76.14,"v":0.856},{"g":"gsr1","r":"a","t":76.71,"v":1.043},{"g":"gsr1","r":"a","t":77.0,"v":1.088},{"g":"gsr1","r":"a","t":77.43,"v":1.051},{"g":"gsr1","r":"a","t":78.0,"v":0.856},{"g":"gsr1","r":"a","t":78.57,"v":0.587},{"g":"gsr1","r":"a","t":79.14,"v":0.332},{"g":"gsr1","r":"a","t":79.71,"v":0.153},{"g":"gsr1","r":"a","t":80.29,"v":0.055},{"g":"gsr1","r":"a","t":81.14,"v":0.015},{"g":"gsr1","r":"a","t":82.29,"v":0.006},{"g":"gsr1","r":"a","t":86.0,"v":0.004},{"g":"gsr1","r":"a","t":93.43,"v":0.003},{"g":"gsr1","r":"a","t":95.14,"v":0.003},
  {"g":"gsr1","r":"b","t":60.29,"v":0.228},{"g":"gsr1","r":"b","t":61.57,"v":0.18},{"g":"gsr1","r":"b","t":62.71,"v":0.198},{"g":"gsr1","r":"b","t":63.86,"v":0.287},{"g":"gsr1","r":"b","t":65.14,"v":0.31},{"g":"gsr1","r":"b","t":67.43,"v":0.299},{"g":"gsr1","r":"b","t":70.29,"v":0.275},{"g":"gsr1","r":"b","t":72.86,"v":0.262},{"g":"gsr1","r":"b","t":73.86,"v":0.295},{"g":"gsr1","r":"b","t":74.86,"v":0.452},{"g":"gsr1","r":"b","t":75.71,"v":0.707},{"g":"gsr1","r":"b","t":76.43,"v":0.916},{"g":"gsr1","r":"b","t":76.86,"v":0.984},{"g":"gsr1","r":"b","t":77.43,"v":0.946},{"g":"gsr1","r":"b","t":78.0,"v":0.737},{"g":"gsr1","r":"b","t":78.57,"v":0.467},{"g":"gsr1","r":"b","t":79.14,"v":0.228},{"g":"gsr1","r":"b","t":79.71,"v":0.078},{"g":"gsr1","r":"b","t":80.57,"v":0.018},{"g":"gsr1","r":"b","t":82.29,"v":0.006},{"g":"gsr1","r":"b","t":86.0,"v":0.004},{"g":"gsr1","r":"b","t":93.43,"v":0.003},{"g":"gsr1","r":"b","t":95.14,"v":0.003},
  {"g":"gsr1","r":"c","t":60.29,"v":0.19},{"g":"gsr1","r":"c","t":61.57,"v":0.138},{"g":"gsr1","r":"c","t":62.86,"v":0.175},{"g":"gsr1","r":"c","t":64.0,"v":0.257},{"g":"gsr1","r":"c","t":65.43,"v":0.272},{"g":"gsr1","r":"c","t":67.43,"v":0.265},{"g":"gsr1","r":"c","t":70.29,"v":0.243},{"g":"gsr1","r":"c","t":72.0,"v":0.228},{"g":"gsr1","r":"c","t":73.43,"v":0.257},{"g":"gsr1","r":"c","t":74.57,"v":0.407},{"g":"gsr1","r":"c","t":75.43,"v":0.662},{"g":"gsr1","r":"c","t":76.29,"v":0.841},{"g":"gsr1","r":"c","t":76.71,"v":0.871},{"g":"gsr1","r":"c","t":77.43,"v":0.811},{"g":"gsr1","r":"c","t":78.0,"v":0.602},{"g":"gsr1","r":"c","t":78.71,"v":0.317},{"g":"gsr1","r":"c","t":79.29,"v":0.138},{"g":"gsr1","r":"c","t":80.0,"v":0.04},{"g":"gsr1","r":"c","t":80.86,"v":0.01},{"g":"gsr1","r":"c","t":82.29,"v":0.006},{"g":"gsr1","r":"c","t":86.0,"v":0.004},{"g":"gsr1","r":"c","t":93.43,"v":0.003},{"g":"gsr1","r":"c","t":95.14,"v":0.003}
 ]
},
"config": {
 "view": {"stroke": "#9c9c9c", "strokeWidth": 1},
 "axis": {"labelFont": "DejaVu Sans", "labelFontSize": 6, "labelColor": "#8c8c8c", "labelOverlap": false, "ticks": false, "domainColor": "#666", "domainWidth": 1.2, "grid": true, "titleFont": "DejaVu Sans", "titleFontSize": 5, "titleColor": "#999", "titleFontWeight": "normal", "titlePadding": 1},
 "axisX": {"gridColor": "#b8b8b8", "gridWidth": 0.8},
 "axisY": {"gridColor": "#cdcdcd", "gridWidth": 0.8, "gridDash": [1.5, 1.5]}
}
}
